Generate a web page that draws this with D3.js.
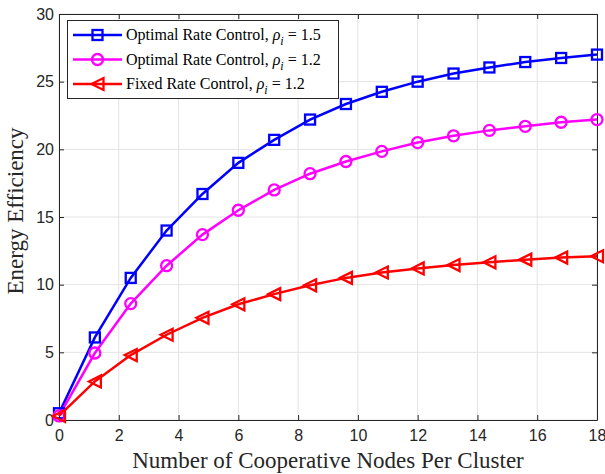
<!DOCTYPE html>
<html><head><meta charset="utf-8">
<script src="https://cdn.jsdelivr.net/npm/d3@7"></script>
<style>body{margin:0;background:#fff}svg{display:block}</style>
</head><body>
<script>
const xValues = [0,1.2,2.4,3.6,4.8,6.0,7.2,8.4,9.6,10.8,12.0,13.2,14.4,15.6,16.8,18.0];
const optimal15 = [0.5,6.1,10.5,14.0,16.7,19.0,20.7,22.2,23.35,24.25,25.0,25.6,26.05,26.45,26.75,27.0];
const optimal12 = [0.3,4.95,8.6,11.4,13.7,15.5,17.0,18.2,19.1,19.85,20.5,21.0,21.4,21.7,22.0,22.2];
const fixed12 = [0.3,2.85,4.8,6.3,7.55,8.55,9.3,9.95,10.5,10.9,11.2,11.45,11.65,11.85,12.0,12.1];
const xTicks = [0,2,4,6,8,10,12,14,16,18];
const yTicks = [0,5,10,15,20,25,30];
const seriesNames = ["Optimal Rate Control, ", "Optimal Rate Control, ", "Fixed Rate Control, "];
const seriesRho = ["1.5","1.2","1.2"];

const W=605,H=474;
const m={l:59,r:8,t:14,b:54};
const svg=d3.select("body").append("svg").attr("width",W).attr("height",H);
const x=d3.scaleLinear().domain([0,18]).range([m.l,W-m.r]);
const y=d3.scaleLinear().domain([0,30]).range([H-m.b,m.t]);

// grid
svg.append("g").selectAll("line").data(xTicks).join("line")
 .attr("x1",d=>x(d)).attr("x2",d=>x(d)).attr("y1",m.t).attr("y2",H-m.b)
 .attr("stroke","#e3e3e3").attr("stroke-width",1);
svg.append("g").selectAll("line").data(yTicks).join("line")
 .attr("y1",d=>y(d)).attr("y2",d=>y(d)).attr("x1",m.l).attr("x2",W-m.r)
 .attr("stroke","#e3e3e3").attr("stroke-width",1);

// axes
const ax=svg.append("g").attr("transform",`translate(0,${H-m.b})`)
 .call(d3.axisBottom(x).tickValues(xTicks).tickSizeInner(-5).tickSizeOuter(0).tickPadding(10));
const ay=svg.append("g").attr("transform",`translate(${m.l},0)`)
 .call(d3.axisLeft(y).tickValues(yTicks).tickSizeInner(-5).tickSizeOuter(0).tickPadding(5));
const axT=svg.append("g").attr("transform",`translate(0,${m.t})`)
 .call(d3.axisTop(x).tickValues(xTicks).tickSizeInner(-5).tickSizeOuter(0).tickFormat(""));
const ayR=svg.append("g").attr("transform",`translate(${W-m.r},0)`)
 .call(d3.axisRight(y).tickValues(yTicks).tickSizeInner(-5).tickSizeOuter(0).tickFormat(""));
[ax,ay,axT,ayR].forEach(g=>{
 g.select(".domain").attr("stroke","#262626").attr("stroke-width",1);
 g.selectAll(".tick line").attr("stroke","#262626");
 g.selectAll("text").attr("font-family","Liberation Sans, Arial, sans-serif").attr("font-size",16).attr("fill","#262626");
});

const colors=["#0000ff","#ff00ff","#ff0000"];
const data=[optimal15,optimal12,fixed12];
const line=d3.line().x((d,i)=>x(xValues[i])).y(d=>y(d));

function marker(g,type,cx,cy,c){
 if(type===0){
  g.append("rect").attr("x",cx-5).attr("y",cy-5).attr("width",10).attr("height",10)
   .attr("fill","none").attr("stroke",c).attr("stroke-width",2.3);
 } else if(type===1){
  g.append("circle").attr("cx",cx).attr("cy",cy).attr("r",5.5)
   .attr("fill","none").attr("stroke",c).attr("stroke-width",2.3);
 } else {
  const s=6;
  g.append("path").attr("d",`M${cx-s},${cy}L${cx+s},${cy-s}L${cx+s},${cy+s}Z`)
   .attr("fill","none").attr("stroke",c).attr("stroke-width",2.3).attr("stroke-linejoin","miter");
 }
}

data.forEach((vals,k)=>{
 svg.append("path").datum(vals).attr("d",line).attr("fill","none")
  .attr("stroke",colors[k]).attr("stroke-width",2.5);
});
data.forEach((vals,k)=>{
 const g=svg.append("g");
 vals.forEach((v,i)=>marker(g,k,x(xValues[i]),y(v),colors[k]));
});

// legend
const lg=svg.append("g");
lg.append("rect").attr("x",67.5).attr("y",20.5).attr("width",271).attr("height",78)
 .attr("fill","#fff").attr("stroke","#262626").attr("stroke-width",1);
seriesNames.forEach((n,k)=>{
 const ly=35+k*24.5;
 lg.append("line").attr("x1",73).attr("x2",122).attr("y1",ly).attr("y2",ly)
  .attr("stroke",colors[k]).attr("stroke-width",2.5);
 marker(lg,k,97.5,ly,colors[k]);
 const t=lg.append("text").attr("x",126).attr("y",ly+5)
  .attr("font-family","Liberation Serif, Times New Roman, serif").attr("font-size",16).attr("fill","#000");
 t.append("tspan").text(n);
 t.append("tspan").attr("font-style","italic").text("ρ");
 t.append("tspan").attr("font-style","italic").attr("font-size",12).attr("dy",5).text("i");
 t.append("tspan").attr("dy",-5).text(" = "+seriesRho[k]);
});

// axis titles
svg.append("text").attr("x",328).attr("y",468).attr("text-anchor","middle")
 .attr("font-family","Liberation Serif, Times New Roman, serif").attr("font-size",23).attr("fill","#262626")
 .text("Number of Cooperative Nodes Per Cluster");
svg.append("text").attr("transform",`translate(23,211) rotate(-90)`).attr("text-anchor","middle")
 .attr("font-family","Liberation Serif, Times New Roman, serif").attr("font-size",23).attr("fill","#262626")
 .text("Energy Efficiency");
</script>
</body></html>
